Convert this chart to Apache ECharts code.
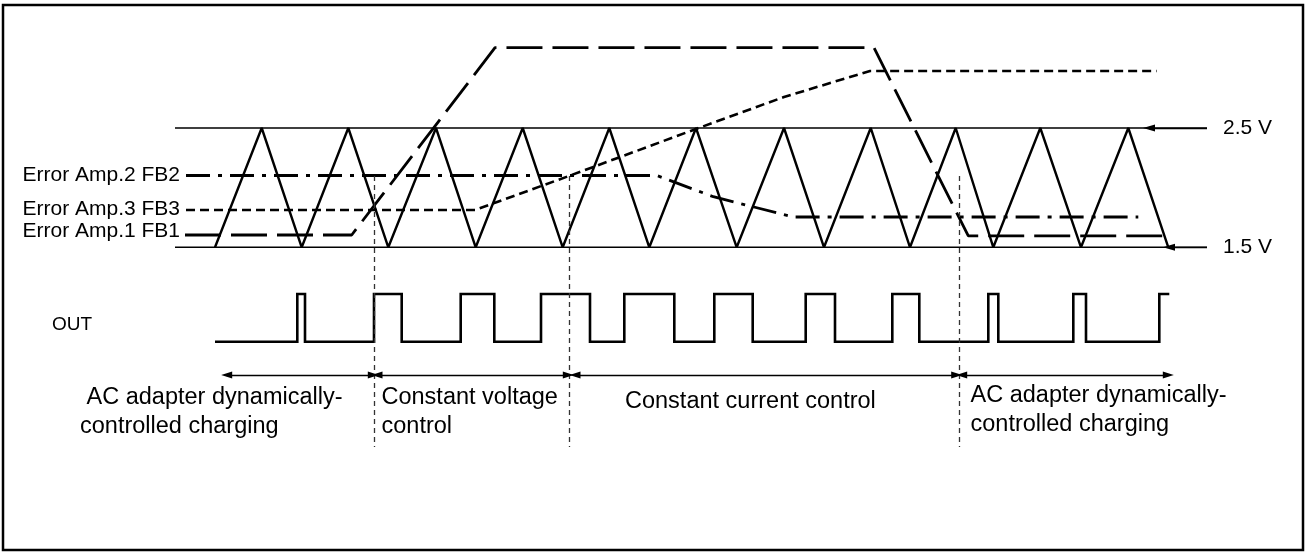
<!DOCTYPE html>
<html>
<head>
<meta charset="utf-8">
<script src="https://cdn.jsdelivr.net/npm/echarts@6/dist/echarts.min.js"></script>
<style>
html,body{margin:0;padding:0;background:#fff;}
#chart{width:1308px;height:552px;}
</style>
</head>
<body>
<div id="chart"></div>
<script>
// ---- data (time in arbitrary units, voltages in V) ----
const refLevels = [2.5, 1.5];
const refLabels = ['2.5 V', '1.5 V'];
const refSpan = [17.5, 120.7];
const refArrowTips = [114.9, 116.9];

const triangleT = [21.5, 26.17, 30.17, 34.83, 38.83, 43.6, 47.57, 52.27, 56.27, 60.93, 64.93, 69.6, 73.67, 78.4, 82.4, 87.07, 91.0, 95.57, 99.33, 104.03, 108.1, 112.83, 116.83];
const triangleV = [1.5, 2.5, 1.5, 2.5, 1.5, 2.5, 1.5, 2.5, 1.5, 2.5, 1.5, 2.5, 1.5, 2.5, 1.5, 2.5, 1.5, 2.5, 1.5, 2.5, 1.5, 2.5, 1.5];

const fb1T = [18.5, 35.17, 49.5, 87.4, 96.83, 116.67];
const fb1V = [1.603, 1.603, 3.173, 3.173, 1.595, 1.595];
const fb2T = [18.6, 65.67, 71.33, 79.33, 113.83];
const fb2V = [2.102, 2.102, 1.924, 1.754, 1.754];
const fb3T = [18.6, 47.5, 56.9, 69.6, 78.4, 87.0, 115.67];
const fb3V = [1.813, 1.813, 2.098, 2.492, 2.76, 2.978, 2.978];
const fbLabels = ['Error Amp.2 FB2', 'Error Amp.3 FB3', 'Error Amp.1 FB1'];

// OUT logic signal: start low, toggles at each edge
const outStart = 21.5;
const outEnd = 116.93;
const outEdges = [29.73, 30.5, 37.4, 40.17, 46.07, 49.43, 54.1, 59.0, 62.43, 67.43, 71.43, 75.27, 80.57, 83.5, 89.23, 91.93, 98.83, 99.83, 107.33, 108.6, 115.93];

const phaseBounds = [37.45, 56.95, 95.9];
const boundRange = [2.098, -0.174];
const phaseArrows = [[22.67, 37.33], [37.7, 56.83], [57.5, 95.67], [96.17, 116.83]];
const arrowLevel = 0.43;
const phaseNames = [' AC adapter dynamically-\ncontrolled charging', 'Constant voltage\ncontrol', 'Constant current control', 'AC adapter dynamically-\ncontrolled charging'];

// ---- build series data ----
const zip = (a, b) => a.map((x, i) => [x, b[i]]);
const outData = [[outStart, 0]];
let lvl = 0;
outEdges.forEach(e => { outData.push([e, lvl]); lvl = 1 - lvl; outData.push([e, lvl]); });
outData.push([outEnd, lvl]);

const FONT = '"Liberation Sans", Arial, Helvetica, sans-serif';
const chart = echarts.init(document.getElementById('chart'), null, {renderer: 'canvas'});

const lineBase = {type: 'line', showSymbol: false, symbol: 'none', silent: true, animation: false};

const option = {
  animation: false,
  backgroundColor: '#fff',
  grid: {left: 0, right: 0, top: 0, bottom: 0, containLabel: false},
  xAxis: {type: 'value', min: 0, max: 130.8, show: false},
  yAxis: [
    {type: 'value', min: -1.0541, max: 3.5729, show: false},
    {type: 'value', min: -4.409, max: 7.164, show: false}
  ],
  series: [
    // reference levels
    Object.assign({}, lineBase, {
      name: 'ref', data: [[refSpan[0], refLevels[0]], [refSpan[1], refLevels[0]], [refSpan[1], '-'], [refSpan[0], refLevels[1]], [refSpan[1], refLevels[1]]],
      connectNulls: false,
      lineStyle: {color: '#000', width: 1.4},
      markLine: {
        silent: true, symbol: ['none', 'triangle'], symbolSize: [7, 12],
        label: {show: false},
        lineStyle: {color: '#000', width: 1.4, type: 'solid'},
        data: refLevels.map((v, i) => [{coord: [refSpan[1], v]}, {coord: [refArrowTips[i], v]}])
      }
    }),
    // triangle
    Object.assign({}, lineBase, {
      name: 'triangle', data: zip(triangleT, triangleV),
      lineStyle: {color: '#000', width: 2.4}
    }),
    // FB lines
    Object.assign({}, lineBase, {
      name: 'FB1', data: zip(fb1T, fb1V),
      lineStyle: {color: '#000', width: 2.8, type: [36, 10]}
    }),
    Object.assign({}, lineBase, {
      name: 'FB2', data: zip(fb2T, fb2V),
      lineStyle: {color: '#000', width: 2.8, type: [24, 8, 4, 8]}
    }),
    Object.assign({}, lineBase, {
      name: 'FB3', data: zip(fb3T, fb3V),
      lineStyle: {color: '#000', width: 2.6, type: [9, 5]}
    }),
    // OUT
    Object.assign({}, lineBase, {
      name: 'OUT', yAxisIndex: 1, data: outData,
      lineStyle: {color: '#000', width: 2.6, join: 'miter'}
    }),
    // phase boundaries
    Object.assign({}, lineBase, {
      name: 'bounds', data: [],
      markLine: {
        silent: true, symbol: ['none', 'none'],
        label: {show: false},
        lineStyle: {color: '#333', width: 1.3, type: [5, 4]},
        data: phaseBounds.map(t => [{coord: [t, boundRange[0]]}, {coord: [t, boundRange[1]]}])
      }
    }),
    // phase arrows
    Object.assign({}, lineBase, {
      name: 'phases', data: [],
      markLine: {
        silent: true, symbol: ['triangle', 'triangle'], symbolSize: [7, 11],
        label: {show: false},
        lineStyle: {color: '#000', width: 1.4, type: 'solid'},
        data: phaseArrows.map(p => [{coord: [p[0], arrowLevel]}, {coord: [p[1], arrowLevel]}])
      }
    })
  ],
  graphic: [
    {type: 'rect', shape: {x: 3, y: 5, width: 1300, height: 545}, style: {fill: 'none', stroke: '#000', lineWidth: 2.5}, silent: true, z: 10},
    {type: 'text', style: {text: fbLabels[0], x: 180, y: 175, align: 'right', verticalAlign: 'middle', font: '21px ' + FONT, fill: '#000'}},
    {type: 'text', style: {text: fbLabels[1], x: 180, y: 209, align: 'right', verticalAlign: 'middle', font: '21px ' + FONT, fill: '#000'}},
    {type: 'text', style: {text: fbLabels[2], x: 180, y: 231, align: 'right', verticalAlign: 'middle', font: '21px ' + FONT, fill: '#000'}},
    {type: 'text', style: {text: 'OUT', x: 52, y: 325, align: 'left', verticalAlign: 'middle', font: '19px ' + FONT, fill: '#000'}},
    {type: 'text', style: {text: refLabels[0], x: 1223, y: 128, align: 'left', verticalAlign: 'middle', font: '21px ' + FONT, fill: '#000'}},
    {type: 'text', style: {text: refLabels[1], x: 1223, y: 247, align: 'left', verticalAlign: 'middle', font: '21px ' + FONT, fill: '#000'}},
    {type: 'text', style: {text: phaseNames[0], x: 80, y: 383, align: 'left', verticalAlign: 'top', lineHeight: 29, font: '23.5px ' + FONT, fill: '#000'}},
    {type: 'text', style: {text: phaseNames[1], x: 381.5, y: 383, align: 'left', verticalAlign: 'top', lineHeight: 29, font: '23.5px ' + FONT, fill: '#000'}},
    {type: 'text', style: {text: phaseNames[2], x: 625, y: 401.5, align: 'left', verticalAlign: 'middle', font: '23.5px ' + FONT, fill: '#000'}},
    {type: 'text', style: {text: phaseNames[3], x: 970.5, y: 381, align: 'left', verticalAlign: 'top', lineHeight: 29, font: '23.5px ' + FONT, fill: '#000'}}
  ]
};
chart.setOption(option);
</script>
</body>
</html>
